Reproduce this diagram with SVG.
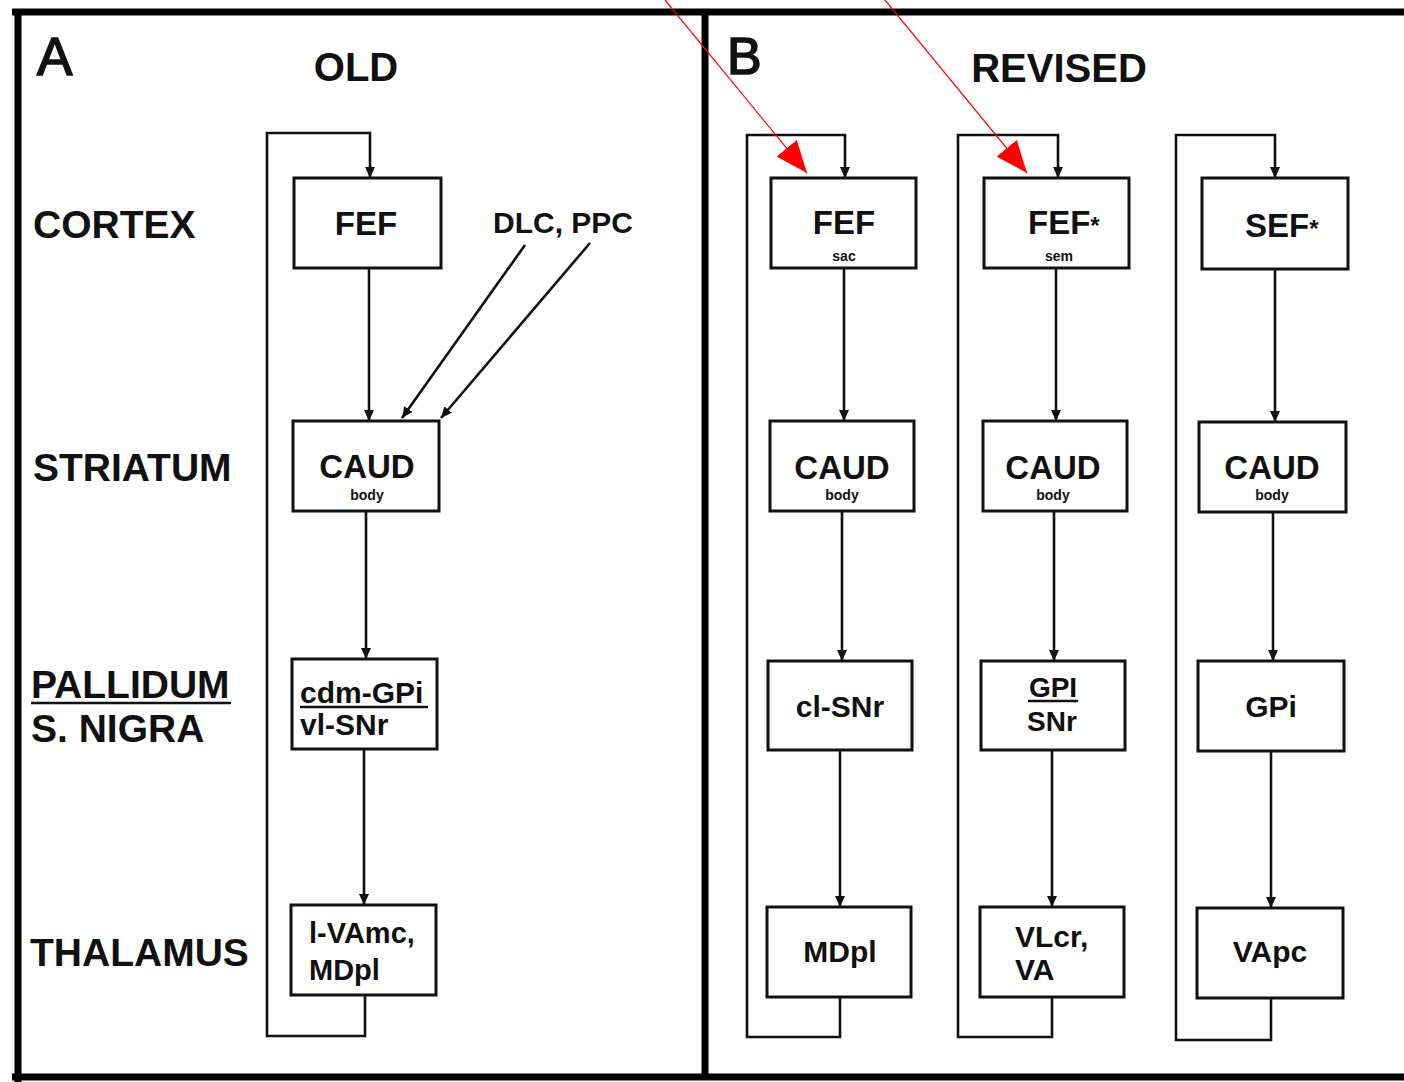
<svg xmlns="http://www.w3.org/2000/svg" width="1404" height="1082" viewBox="0 0 1404 1082">
<defs>
<style>
.frame{fill:none;stroke:#000;stroke-width:7}
.box{fill:#fff;stroke:#111;stroke-width:3}
.wire{fill:none;stroke:#111;stroke-width:2.6}
.red{fill:none;stroke:#f00;stroke-width:1.2}
.t{font-family:"Liberation Sans",Arial,sans-serif;font-weight:bold;fill:#111}
.c{text-anchor:middle}
.lab{font-size:39px}
.bx{font-size:33px}
.sm{font-size:30px}
.tiny{font-size:14px}
.ul{stroke:#111;stroke-width:2.5}
.big{font-weight:normal;stroke:#111;stroke-width:1.6}
</style>
<marker id="ah" viewBox="0 -5 11 10" refX="11" refY="0" markerWidth="11" markerHeight="10" markerUnits="userSpaceOnUse" orient="auto">
<path d="M0,-5 L11,0 L0,5 z" fill="#111"/>
</marker>
<marker id="rh" viewBox="0 -13 32 26" refX="32" refY="0" markerWidth="32" markerHeight="26" markerUnits="userSpaceOnUse" orient="auto">
<path d="M0,-13 L32,0 L0,13 z" fill="#f00"/>
</marker>
</defs>
<rect width="1404" height="1082" fill="#fff"/>
<g id="frame">
<path class="frame" d="M12,12 L1404,12 M18,9 L18,1082 M12,1077 L1404,1077 M705,9 L705,1080"/>
</g>
<g id="headers">
<text class="t big" x="37" y="75" font-size="53">A</text>
<text class="t c" x="356" y="81" font-size="40">OLD</text>
<text class="t big" x="727" y="74" font-size="52">B</text>
<text class="t c" x="1059" y="82" font-size="40">REVISED</text>
</g>
<g id="row-labels">
<text class="t lab" x="33" y="238">CORTEX</text>
<text class="t lab" x="33" y="481">STRIATUM</text>
<text class="t lab" x="31" y="698">PALLIDUM</text>
<line class="ul" x1="31" y1="703" x2="231" y2="703"/>
<text class="t lab" x="31" y="742">S. NIGRA</text>
<text class="t lab" x="30" y="966">THALAMUS</text>
<text class="t" x="493" y="233" font-size="30">DLC, PPC</text>
</g>
<g id="connectors">
<path class="wire" d="M365,995 L365,1036 L267,1036 L267,133 L370,133 L370,178" marker-end="url(#ah)"/>
<path class="wire" d="M369,268 L369,421" marker-end="url(#ah)"/>
<path class="wire" d="M366,511 L366,659" marker-end="url(#ah)"/>
<path class="wire" d="M364,749 L364,905" marker-end="url(#ah)"/>
<path class="wire" d="M525,245 L402,418" marker-end="url(#ah)"/>
<path class="wire" d="M590,243 L441,418" marker-end="url(#ah)"/>
<path class="wire" d="M840,997 L840,1037 L747,1037 L747,135 L845,135 L845,178" marker-end="url(#ah)"/>
<path class="wire" d="M844,268 L844,421" marker-end="url(#ah)"/>
<path class="wire" d="M842,511 L842,661" marker-end="url(#ah)"/>
<path class="wire" d="M840,750 L840,907" marker-end="url(#ah)"/>
<path class="wire" d="M1052,997 L1052,1037 L958,1037 L958,135 L1058,135 L1058,178" marker-end="url(#ah)"/>
<path class="wire" d="M1056,268 L1056,421" marker-end="url(#ah)"/>
<path class="wire" d="M1054,511 L1054,661" marker-end="url(#ah)"/>
<path class="wire" d="M1052,750 L1052,907" marker-end="url(#ah)"/>
<path class="wire" d="M1271,998 L1271,1040 L1176,1040 L1176,135 L1275,135 L1275,178" marker-end="url(#ah)"/>
<path class="wire" d="M1275,269 L1275,422" marker-end="url(#ah)"/>
<path class="wire" d="M1273,512 L1273,661" marker-end="url(#ah)"/>
<path class="wire" d="M1271,751 L1271,908" marker-end="url(#ah)"/>
<path class="red" d="M665,0 L807,173" marker-end="url(#rh)"/>
<path class="red" d="M885,0 L1027,173" marker-end="url(#rh)"/>
</g>
<g id="a-fef"><rect class="box" x="294" y="178" width="147" height="90"/><text class="t bx c" x="366" y="235">FEF</text></g>
<g id="a-caud"><rect class="box" x="293" y="421" width="146" height="90"/><text class="t bx c" x="367" y="478">CAUD</text><text class="t tiny c" x="367" y="500">body</text></g>
<g id="a-gpi"><rect class="box" x="292" y="659" width="145" height="90"/><text class="t sm" x="300" y="703">cdm-GPi</text><line class="ul" x1="300" y1="707" x2="428" y2="707"/><text class="t sm" x="300" y="735">vl-SNr</text></g>
<g id="a-thal"><rect class="box" x="291" y="905" width="145" height="90"/><text class="t" font-size="29" x="309" y="943">l-VAmc,</text><text class="t" font-size="29" x="309" y="980">MDpl</text></g>
<g id="b1-fef"><rect class="box" x="771" y="178" width="145" height="90"/><text class="t bx c" x="844" y="234">FEF</text><text class="t tiny c" x="844" y="261">sac</text></g>
<g id="b1-caud"><rect class="box" x="770" y="421" width="144" height="90"/><text class="t bx c" x="842" y="479">CAUD</text><text class="t tiny c" x="842" y="500">body</text></g>
<g id="b1-snr"><rect class="box" x="768" y="661" width="144" height="89"/><text class="t sm c" x="840" y="717">cl-SNr</text></g>
<g id="b1-thal"><rect class="box" x="767" y="907" width="144" height="90"/><text class="t sm c" x="840" y="962">MDpl</text></g>
<g id="b2-fef"><rect class="box" x="984" y="178" width="145" height="90"/><text class="t bx" x="1028" y="234">FEF<tspan font-size="24">*</tspan></text><text class="t tiny c" x="1059" y="261">sem</text></g>
<g id="b2-caud"><rect class="box" x="983" y="421" width="144" height="90"/><text class="t bx c" x="1053" y="479">CAUD</text><text class="t tiny c" x="1053" y="500">body</text></g>
<g id="b2-gpi"><rect class="box" x="981" y="661" width="144" height="89"/><text class="t c" font-size="28" x="1053" y="697">GPI</text><line class="ul" x1="1028" y1="701" x2="1078" y2="701"/><text class="t c" font-size="28" x="1052" y="731">SNr</text></g>
<g id="b2-thal"><rect class="box" x="980" y="907" width="144" height="90"/><text class="t sm" x="1015" y="947">VLcr,</text><text class="t sm" x="1015" y="980">VA</text></g>
<g id="b3-sef"><rect class="box" x="1202" y="178" width="146" height="91"/><text class="t bx" x="1245" y="237">SEF<tspan font-size="24">*</tspan></text></g>
<g id="b3-caud"><rect class="box" x="1199" y="422" width="147" height="90"/><text class="t bx c" x="1272" y="479">CAUD</text><text class="t tiny c" x="1272" y="500">body</text></g>
<g id="b3-gpi"><rect class="box" x="1198" y="661" width="146" height="90"/><text class="t sm c" x="1271" y="717">GPi</text></g>
<g id="b3-thal"><rect class="box" x="1197" y="908" width="146" height="90"/><text class="t sm c" x="1270" y="962">VApc</text></g>
</svg>
